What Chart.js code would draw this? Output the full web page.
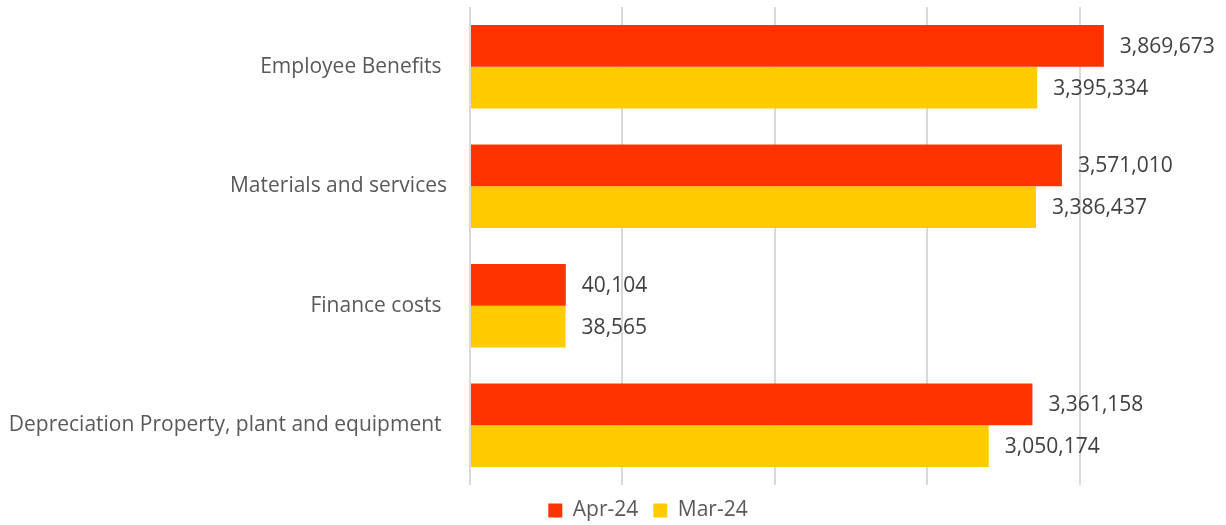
<!DOCTYPE html>
<html>
<head>
<meta charset="utf-8">
<title>Expenses Apr-24 vs Mar-24</title>
<script src="https://cdn.jsdelivr.net/npm/chart.js@4.4.1/dist/chart.umd.min.js"></script>
<style>
    html, body { margin: 0; padding: 0; background: #ffffff; }
    #chartBox { width: 1226px; height: 525px; position: relative; }
</style>
</head>
<body>
<div id="chartBox"><canvas id="expenseChart"></canvas></div>
<script>
// chart data
const categories = [
    'Employee Benefits ',
    'Materials and services',
    'Finance costs ',
    'Depreciation Property, plant and equipment '
];
const seriesNames = ['Apr-24', 'Mar-24'];
const apr24Values = [3869673, 3571010, 40104, 3361158];
const mar24Values = [3395334, 3386437, 38565, 3050174];

// value axis (no tick labels are shown, only gridlines)
const axisMin = -642000;
const axisMax = 4739000;
const axisStep = 1085000;

// Plugin to write the value next to the end of each bar
const valueLabels = {
    id: 'valueLabels',
    afterDatasetsDraw(chart) {
        const ctx = chart.ctx;
        ctx.save();
        ctx.font = '21px "Open Sans"';
        ctx.fillStyle = '#404040';
        ctx.textAlign = 'left';
        ctx.textBaseline = 'middle';
        chart.data.datasets.forEach((ds, i) => {
            chart.getDatasetMeta(i).data.forEach((bar, j) => {
                ctx.fillText(ds.data[j].toLocaleString('en-US'), bar.x + 16, bar.y + 1);
            });
        });
        ctx.restore();
    }
};

function initializeExpenseChart() {
    const ctx = document.getElementById('expenseChart').getContext('2d');
    new Chart(ctx, {
        type: 'bar',
        data: {
            labels: categories,
            datasets: [{
                label: seriesNames[0],
                data: apr24Values,
                backgroundColor: '#FF3300',
                base: axisMin,
                categoryPercentage: 0.7,
                barPercentage: 1.0
            }, {
                label: seriesNames[1],
                data: mar24Values,
                backgroundColor: '#FFCC00',
                base: axisMin,
                categoryPercentage: 0.7,
                barPercentage: 1.0
            }]
        },
        options: {
            indexAxis: 'y',
            responsive: true,
            maintainAspectRatio: false,
            animation: false,
            layout: {
                // negative right padding widens the legend box so it centres like the original
                padding: { left: 0, right: -70, top: 7, bottom: -6 }
            },
            scales: {
                x: {
                    type: 'linear',
                    min: axisMin,
                    max: axisMax,
                    afterBuildTicks: (scale) => {
                        const ticks = [];
                        for (let v = axisMin; v <= axisMax; v += axisStep) {
                            ticks.push({ value: v });
                        }
                        scale.ticks = ticks;
                    },
                    ticks: { display: false },
                    grid: { color: '#D9D9D9', lineWidth: 2, drawTicks: false },
                    border: { display: false }
                },
                y: {
                    afterFit: (scale) => {
                        scale.width = 470;
                        scale.paddingTop = 0;
                        scale.paddingBottom = 0;
                    },
                    grid: {
                        display: true,
                        drawOnChartArea: false,
                        drawTicks: true,
                        tickLength: 23,
                        color: 'rgba(0,0,0,0)'
                    },
                    border: { display: false },
                    ticks: {
                        color: '#595959',
                        padding: 0,
                        font: { family: '"Open Sans"', size: 21 }
                    }
                }
            },
            plugins: {
                legend: {
                    position: 'bottom',
                    labels: {
                        boxWidth: 14,
                        boxHeight: 14,
                        padding: 15,
                        color: '#595959',
                        font: { family: '"Open Sans"', size: 21 }
                    }
                },
                tooltip: { enabled: false }
            }
        },
        plugins: [valueLabels]
    });
}

document.addEventListener('DOMContentLoaded', () => {
    initializeExpenseChart();
});
</script>
</body>
</html>
